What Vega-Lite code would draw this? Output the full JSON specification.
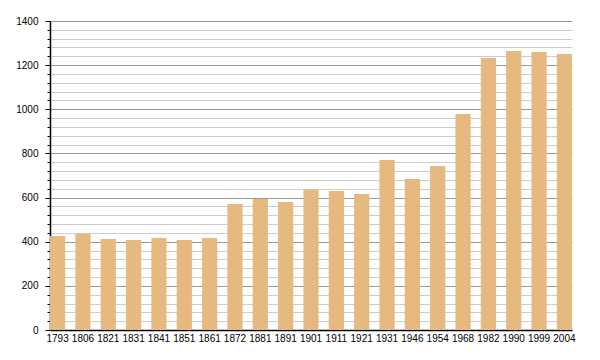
{
  "$schema": "https://vega.github.io/schema/vega-lite/v6.json",
  "autosize": "none",
  "width": 522,
  "height": 309,
  "padding": {"left": 50, "top": 21, "right": 28, "bottom": 30},
  "background": "white",
  "config": {"view": {"stroke": null}, "font": "Liberation Sans"},
  "data": {"values": [
    {"year": "1793", "pop": 426},
    {"year": "1806", "pop": 436},
    {"year": "1821", "pop": 412},
    {"year": "1831", "pop": 408},
    {"year": "1841", "pop": 417},
    {"year": "1851", "pop": 408},
    {"year": "1861", "pop": 417},
    {"year": "1872", "pop": 571},
    {"year": "1881", "pop": 593},
    {"year": "1891", "pop": 580},
    {"year": "1901", "pop": 637},
    {"year": "1911", "pop": 630},
    {"year": "1921", "pop": 616},
    {"year": "1931", "pop": 770},
    {"year": "1946", "pop": 684},
    {"year": "1954", "pop": 743},
    {"year": "1968", "pop": 979},
    {"year": "1982", "pop": 1232},
    {"year": "1990", "pop": 1264},
    {"year": "1999", "pop": 1260},
    {"year": "2004", "pop": 1251}
  ]},
  "mark": {"type": "bar", "color": "#e6b981"},
  "encoding": {
    "x": {
      "field": "year", "type": "ordinal", "sort": null,
      "scale": {"paddingInner": 0.4, "paddingOuter": 0},
      "axis": {"title": null, "labelAngle": 0, "ticks": false, "labelPadding": 3,
               "labelFontSize": 10, "labelColor": "#000", "domainColor": "#000", "domainWidth": 1.5,
               "labelOverlap": false}
    },
    "y": {
      "field": "pop", "type": "quantitative",
      "scale": {"domain": [0, 1400], "nice": false},
      "axis": {
        "title": null,
        "values": [0,40,80,120,160,200,240,280,320,360,400,440,480,520,560,600,640,680,720,760,800,840,880,920,960,1000,1040,1080,1120,1160,1200,1240,1280,1320,1360,1400],
        "labelExpr": "datum.value % 200 === 0 ? datum.label : ''",
        "format": "d",
        "labelFontSize": 10, "labelColor": "#000",
        "domainColor": "#000", "domainWidth": 1.5,
        "tickColor": "#000",
        "tickSize": {"condition": {"test": "datum.value % 200 === 0", "value": 5}, "value": 3},
        "labelPadding": 7,
        "grid": true,
        "gridColor": {"condition": {"test": "datum.value % 200 === 0", "value": "#999999"}, "value": "#cccccc"}
      }
    }
  }
}
